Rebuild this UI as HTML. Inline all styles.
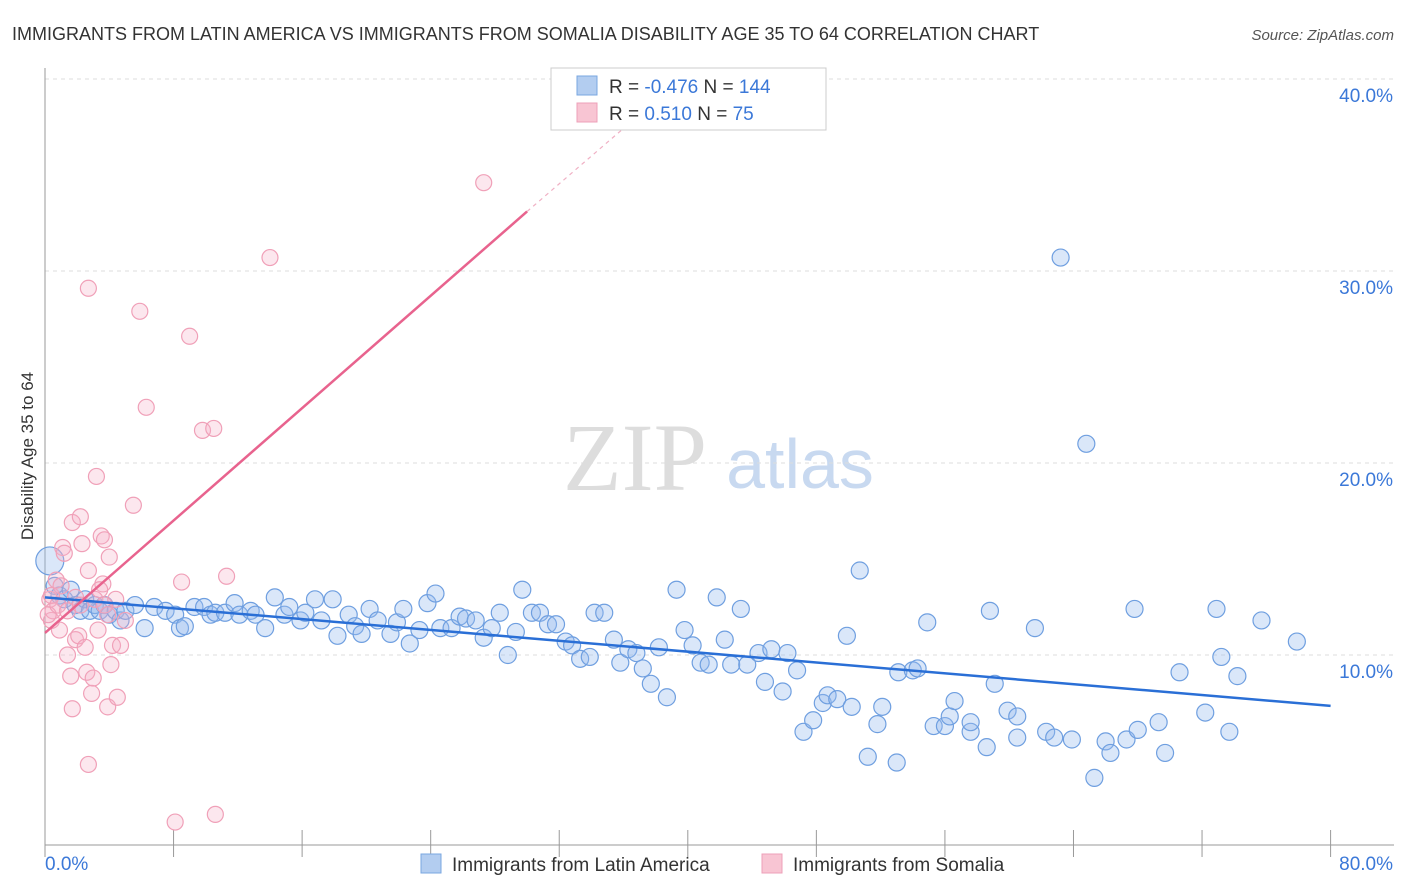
<!DOCTYPE html>
<html><head><meta charset="utf-8"><style>
body{margin:0;background:#fff;font-family:"Liberation Sans",sans-serif;}
svg{display:block}
</style></head><body>
<svg id="chart" width="1406" height="892">
<text x="12" y="40" font-size="18" fill="#333">IMMIGRANTS FROM LATIN AMERICA VS IMMIGRANTS FROM SOMALIA DISABILITY AGE 35 TO 64 CORRELATION CHART</text>
<text x="1394" y="40" font-size="15" fill="#555" font-style="italic" text-anchor="end">Source: ZipAtlas.com</text>
<g>
<text x="635" y="490" font-size="96" fill="#ddd" font-family="Liberation Serif,serif" text-anchor="middle">ZIP</text>
<text x="800" y="488" font-size="70" fill="#c8d9f0" text-anchor="middle">atlas</text>
</g>
<g id="grid"></g>
<g id="axes"></g>
<g id="marks"></g>
<text transform="translate(33,456) rotate(-90)" font-size="17" fill="#333" text-anchor="middle">Disability Age 35 to 64</text>
<g>
<rect x="551" y="68" width="275" height="62" fill="#fff" stroke="#ccc"/>
<rect x="577" y="76" width="20" height="19" fill="#b3cdf0" stroke="#7aa7e0"/>
<rect x="577" y="103" width="20" height="19" fill="#f8c5d3" stroke="#eea0b8"/>
<text x="609" y="93" font-size="19" fill="#333">R = <tspan fill="#3b78d8">-0.476</tspan>   N = <tspan fill="#3b78d8">144</tspan></text>
<text x="609" y="120" font-size="19" fill="#333">R =  <tspan fill="#3b78d8">0.510</tspan>   N =  <tspan fill="#3b78d8"> 75</tspan></text>
</g>
<g>
<rect x="421" y="854" width="20" height="19" fill="#b3cdf0" stroke="#7aa7e0"/>
<text x="452" y="871" font-size="19" fill="#333">Immigrants from Latin America</text>
<rect x="762" y="854" width="20" height="19" fill="#f8c5d3" stroke="#eea0b8"/>
<text x="793" y="871" font-size="19" fill="#333">Immigrants from Somalia</text>
</g>
</svg>
<script>
const yTicks=[10,20,30,40];
const yTickLabels=["10.0%","20.0%","30.0%","40.0%"];
const xTicks=[0,8,16,24,32,40,48,56,64,72,80];
const blueX=[0.3,0.6,0.9,1.2,1.6,1.9,2.2,2.5,2.8,3.1,3.4,3.7,4.0,4.4,4.7,5.0,5.6,6.2,6.8,7.5,8.1,8.4,8.7,9.3,9.9,10.3,10.6,11.2,11.8,12.1,12.8,13.1,13.7,14.3,14.9,15.2,15.9,16.2,16.8,17.2,17.9,18.2,18.9,19.3,19.7,20.2,20.7,21.5,21.9,22.3,22.7,23.3,23.8,24.3,24.6,25.3,25.8,26.2,26.8,27.3,27.8,28.3,28.8,29.3,29.7,30.3,30.8,31.3,31.8,32.4,32.8,33.3,33.9,34.2,34.8,35.4,35.8,36.3,36.8,37.2,37.7,38.2,38.7,39.3,39.8,40.3,40.8,41.3,41.8,42.3,42.7,43.3,43.7,44.4,44.8,45.2,45.9,46.2,46.8,47.2,47.8,48.4,48.7,49.3,49.9,50.2,50.7,51.2,51.8,52.1,53.0,53.1,54.0,54.3,54.9,55.3,56.0,56.3,56.6,57.6,57.6,58.6,58.8,59.1,59.9,60.5,60.5,61.6,62.3,62.8,63.2,63.9,64.8,65.3,66.0,66.3,67.3,67.8,68.0,69.3,69.7,70.6,72.2,72.9,73.2,73.7,74.2,75.7,77.9];
const blueY=[14.9,13.6,13.1,12.9,13.4,12.6,12.3,12.9,12.3,12.6,12.3,12.6,12.1,12.3,11.8,12.3,12.6,11.4,12.5,12.3,12.1,11.4,11.5,12.5,12.5,12.1,12.2,12.2,12.7,12.1,12.3,12.1,11.4,13.0,12.1,12.5,11.8,12.2,12.9,11.8,12.9,11.0,12.1,11.5,11.1,12.4,11.8,11.1,11.7,12.4,10.6,11.3,12.7,13.2,11.4,11.4,12.0,11.9,11.8,10.9,11.4,12.2,10.0,11.2,13.4,12.2,12.2,11.6,11.6,10.7,10.5,9.8,9.9,12.2,12.2,10.8,9.6,10.3,10.1,9.3,8.5,10.4,7.8,13.4,11.3,10.5,9.6,9.5,13.0,10.8,9.5,12.4,9.5,10.1,8.6,10.3,8.1,10.1,9.2,6.0,6.6,7.5,7.9,7.7,11.0,7.3,14.4,4.7,6.4,7.3,4.4,9.1,9.2,9.3,11.7,6.3,6.3,6.8,7.6,6.0,6.5,5.2,12.3,8.5,7.1,5.7,6.8,11.4,6.0,5.7,30.7,5.6,21.0,3.6,5.5,4.9,5.6,12.4,6.1,6.5,4.9,9.1,7.0,12.4,9.9,6.0,8.9,11.8,10.7];
const pinkX=[0.3,0.4,0.5,0.7,0.9,1.1,1.2,1.4,1.6,1.7,1.9,1.7,2.1,2.2,2.3,2.5,2.6,2.7,2.7,2.9,3.0,3.2,3.3,3.5,3.6,3.7,3.9,4.0,4.1,4.2,4.4,4.5,2.7,4.7,5.0,5.5,5.9,6.3,8.1,8.5,9.0,9.8,10.5,10.6,11.3,14.0,27.3,0.2,0.4,0.8,1.0,1.4,1.9,2.2,3.1,3.4,3.7,3.9];
const pinkY=[12.9,11.8,12.3,13.9,11.3,15.6,15.3,10.0,8.9,16.9,10.8,7.2,11.0,17.2,15.8,10.4,9.1,29.1,14.4,8.0,8.8,19.3,11.3,16.2,13.7,16.0,7.3,15.1,9.5,10.5,12.9,7.8,4.3,10.5,11.8,17.8,27.9,22.9,1.3,13.8,26.6,21.7,21.8,1.7,14.1,30.7,34.6,12.1,13.1,12.6,13.6,12.3,13.0,12.6,12.9,13.4,12.6,12.1];
const blueTrend=[[0,13.0],[80,7.35]];
const pinkTrend=[[0,11.15],[30,33.1]];
const pinkTrendExt=[[30,33.1],[36.1,37.5]];
const NS="http://www.w3.org/2000/svg";
const X=v=>45+v*16.07;
const Y=v=>847-v*19.2;
function mk(t,a,p){const e=document.createElementNS(NS,t);for(const k in a)e.setAttribute(k,a[k]);p.appendChild(e);return e;}
const grid=document.getElementById('grid'),axes=document.getElementById('axes'),marks=document.getElementById('marks');
yTicks.forEach((t,i)=>{
 const l=mk('line',{x1:45,x2:1394,y1:Y(t),y2:Y(t),stroke:'#ddd','stroke-dasharray':'4,4'},grid);
 
 
 const tx=mk('text',{x:1393,y:Y(t)+23,'font-size':19,fill:'#3b78d8','text-anchor':'end'},axes);
 tx.textContent=yTickLabels[i];
 
 
});
mk('line',{x1:45,x2:45,y1:68,y2:845,stroke:'#999'},axes);
mk('line',{x1:45,x2:1394,y1:845,y2:845,stroke:'#999'},axes);
xTicks.forEach(t=>{
 const l=mk('line',{x1:X(t),x2:X(t),y1:830,y2:857,stroke:'#999'},axes);
 
 
});
const x0=mk('text',{x:45,y:870,'font-size':19,fill:'#3b78d8'},axes);x0.textContent='0.0%';


const x1=mk('text',{x:1393,y:870,'font-size':19,fill:'#3b78d8','text-anchor':'end'},axes);x1.textContent='80.0%';


blueX.forEach((v,i)=>{
 const c=mk('circle',{cx:X(v),cy:Y(blueY[i]),r:i==0?14:8.5,fill:'rgba(150,187,238,0.35)',stroke:'#6f9fe0','stroke-width':1.2},marks);
 
 
});
pinkX.forEach((v,i)=>{
 const c=mk('circle',{cx:X(v),cy:Y(pinkY[i]),r:8,fill:'rgba(245,175,198,0.3)',stroke:'#f0a0b8','stroke-width':1.2},marks);
 
 
});
const bl=mk('line',{x1:X(blueTrend[0][0]),y1:Y(blueTrend[0][1]),x2:X(blueTrend[1][0]),y2:Y(blueTrend[1][1]),stroke:'#2a6fd6','stroke-width':2.5},marks);


const pl=mk('line',{x1:X(pinkTrend[0][0]),y1:Y(pinkTrend[0][1]),x2:X(pinkTrend[1][0]),y2:Y(pinkTrend[1][1]),stroke:'#e8638e','stroke-width':2.5},marks);


const pd=mk('line',{x1:X(pinkTrendExt[0][0]),y1:Y(pinkTrendExt[0][1]),x2:X(pinkTrendExt[1][0]),y2:Y(pinkTrendExt[1][1]),stroke:'#f0b0c4','stroke-width':1.2,'stroke-dasharray':'4,4'},marks);


</script>
</body></html>
